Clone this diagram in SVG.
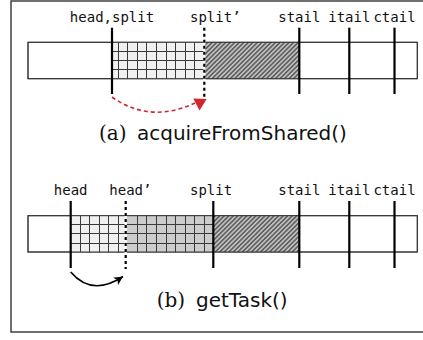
<svg xmlns="http://www.w3.org/2000/svg" width="423" height="340" viewBox="0 0 423 340">
<style>
.lbl{font-family:"DejaVu Sans Mono",monospace;font-size:14px;fill:#111}
.ser{font-family:"DejaVu Serif",serif;font-size:20px;fill:#111}
.sans{font-family:"DejaVu Sans",sans-serif;font-size:20px;fill:#111}
.bar{fill:#fff;stroke:#333;stroke-width:1}
.barline{fill:none;stroke:#333;stroke-width:1}
.grid{fill:none;stroke:#3a3a3a;stroke-width:1}
.solid{stroke:#000;stroke-width:2.2}
.dot{stroke:#000;stroke-width:2.2;stroke-dasharray:3 3}
</style>
<defs>
<pattern id="hatch" width="3.2" height="3.2" patternUnits="userSpaceOnUse" patternTransform="rotate(45)">
<rect width="3.2" height="3.2" fill="#c0c0c0"/>
<line x1="0.8" y1="0" x2="0.8" y2="3.2" stroke="#333" stroke-width="1.1"/>
</pattern>
<marker id="ahb" markerWidth="10" markerHeight="10" refX="9" refY="5" orient="auto" markerUnits="userSpaceOnUse">
<path d="M0,0.5 L9,5 L0,9.5 L2.5,5 Z" fill="#000"/>
</marker>
</defs>
<rect id="frame" x="11" y="1" width="420" height="331" fill="#fff" stroke="#333" stroke-width="1.4"/>

<g id="bar-a">
<rect class="bar" x="28" y="42.3" width="389.3" height="36.4"/>
<rect x="112" y="42.3" width="92.3" height="36.4" fill="#f0f0f0"/>
<rect x="204.3" y="42.3" width="95" height="36.4" fill="url(#hatch)"/>
<path class="grid" d="M118.5,42.3V78.7M127.5,42.3V78.7M137.5,42.3V78.7M146.5,42.3V78.7M156.5,42.3V78.7M166.5,42.3V78.7M175.5,42.3V78.7M185.5,42.3V78.7M194.5,42.3V78.7M112,51.5H204.3M112,60.5H204.3M112,69.5H204.3"/>
<rect class="barline" x="28" y="42.3" width="389.3" height="36.4"/>
</g>
<g id="markers-a">
<line class="solid" x1="112" y1="27.7" x2="112" y2="94"/>
<line x1="204.3" y1="27.7" x2="204.3" y2="97" stroke="#fff" stroke-width="2.2"/>
<line class="dot" x1="204.3" y1="27.7" x2="204.3" y2="97"/>
<line class="solid" x1="299.3" y1="27.7" x2="299.3" y2="94"/>
<line class="solid" x1="349.3" y1="27.7" x2="349.3" y2="94"/>
<line class="solid" x1="394.5" y1="27.7" x2="394.5" y2="94"/>
</g>
<g id="labels-a">
<text class="lbl" x="112" y="22" text-anchor="middle">head,split</text>
<text class="lbl" x="190" y="22">split’</text>
<text class="lbl" x="299.3" y="22" text-anchor="middle">stail</text>
<text class="lbl" x="349.3" y="22" text-anchor="middle">itail</text>
<text class="lbl" x="394.5" y="22" text-anchor="middle">ctail</text>
</g>
<g id="caption-a">
<text class="ser" x="99" y="140">(a)</text>
<text class="sans" x="137" y="140">acquireFromShared()</text>
</g>

<g id="bar-b">
<rect class="bar" x="28" y="215.7" width="389.3" height="36.3"/>
<rect x="70.7" y="215.7" width="55" height="36.3" fill="#f0f0f0"/>
<rect x="125.7" y="215.7" width="87.6" height="36.3" fill="#cccccc"/>
<rect x="213.3" y="215.7" width="86" height="36.3" fill="url(#hatch)"/>
<path class="grid" d="M80.5,215.7V252M89.5,215.7V252M99.5,215.7V252M108.5,215.7V252M118.5,215.7V252M137.5,215.7V252M146.5,215.7V252M156.5,215.7V252M166.5,215.7V252M175.5,215.7V252M185.5,215.7V252M194.5,215.7V252M204.5,215.7V252M70.7,224.5H213.3M70.7,233.5H213.3M70.7,243.5H213.3"/>
<rect class="barline" x="28" y="215.7" width="389.3" height="36.3"/>
</g>
<g id="markers-b">
<line class="solid" x1="70.7" y1="201" x2="70.7" y2="268"/>
<line x1="125.7" y1="201" x2="125.7" y2="269" stroke="#fff" stroke-width="2.2"/>
<line class="dot" x1="125.7" y1="201" x2="125.7" y2="269"/>
<line class="solid" x1="213.3" y1="201" x2="213.3" y2="268"/>
<line class="solid" x1="299.3" y1="201" x2="299.3" y2="268"/>
<line class="solid" x1="349.3" y1="201" x2="349.3" y2="268"/>
<line class="solid" x1="394.5" y1="201" x2="394.5" y2="268"/>
</g>
<g id="labels-b">
<text class="lbl" x="70.7" y="195" text-anchor="middle">head</text>
<text class="lbl" x="109.3" y="195">head’</text>
<text class="lbl" x="190" y="195">split</text>
<text class="lbl" x="299.3" y="195" text-anchor="middle">stail</text>
<text class="lbl" x="349.3" y="195" text-anchor="middle">itail</text>
<text class="lbl" x="394.5" y="195" text-anchor="middle">ctail</text>
</g>
<g id="caption-b">
<text class="ser" x="156.7" y="307">(b)</text>
<text class="sans" x="196" y="307">getTask()</text>
</g>

<g id="connectors">
<path d="M112,97 Q150,124 195,103" fill="none" stroke="#d0262f" stroke-width="1.6" stroke-dasharray="4 3"/>
<polygon points="193.3,98.5 206.7,99 199.5,110.5" fill="#d0262f"/>
<path d="M70.7,272 Q92,297 123,276.5" fill="none" stroke="#000" stroke-width="1.6" marker-end="url(#ahb)"/>
</g>
</svg>
